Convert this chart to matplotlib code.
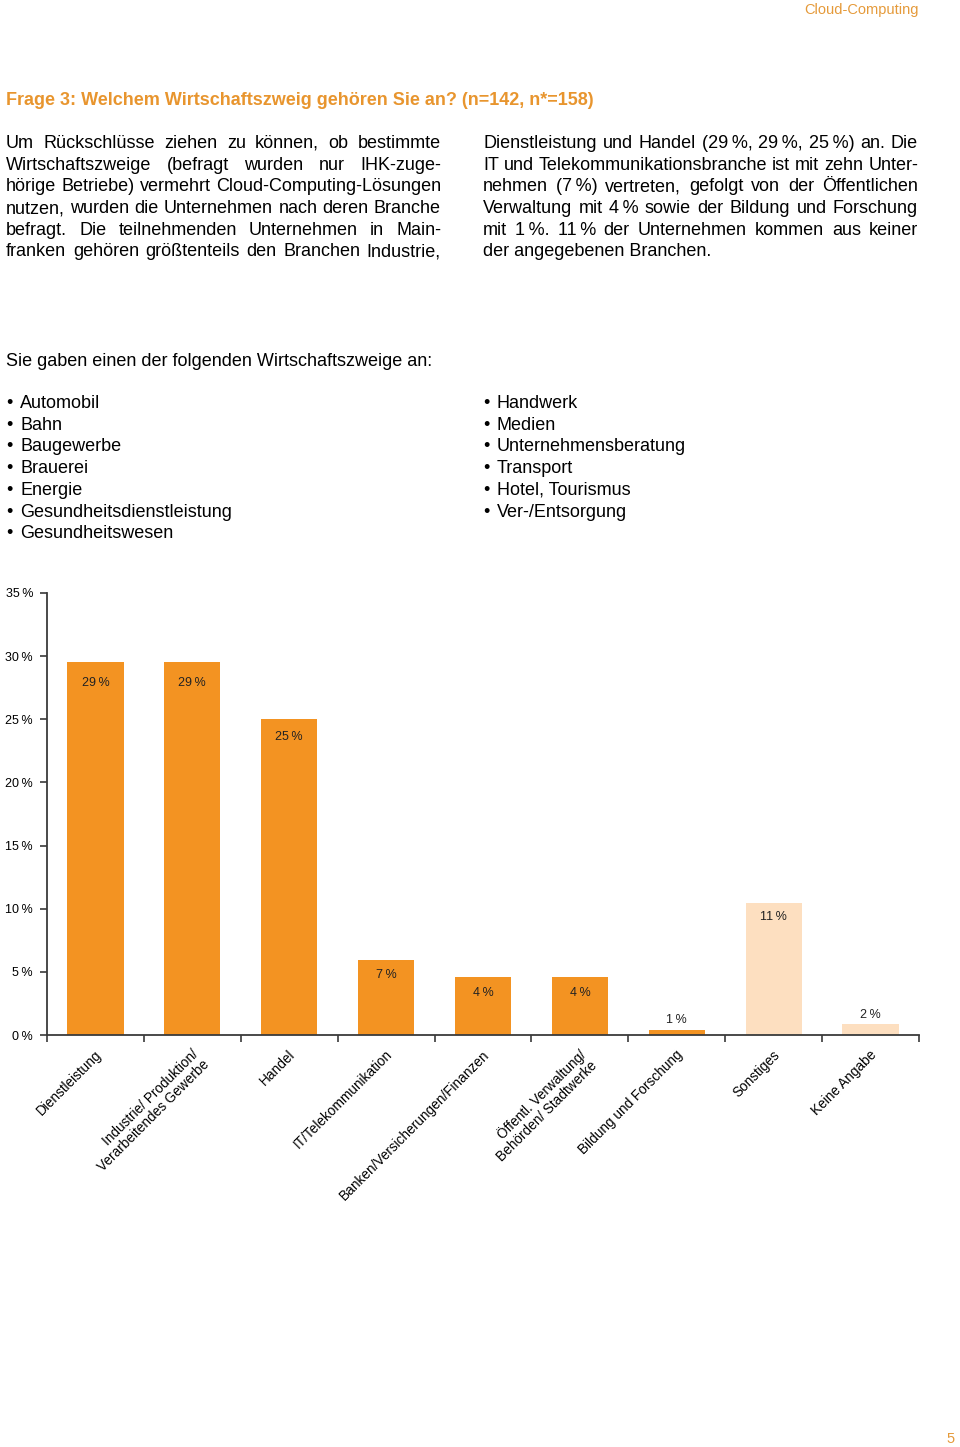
import matplotlib
matplotlib.use("Agg")
import matplotlib.pyplot as plt
from matplotlib.font_manager import FontProperties
from matplotlib.transforms import ScaledTranslation

# ---------------- data ----------------
categories = [
    "Dienstleistung",
    "Industrie/ Produktion/\nVerarbeitendes Gewerbe",
    "Handel",
    "IT/Telekommunikation",
    "Banken/Versicherungen/Finanzen",
    "Öffentl. Verwaltung/\nBehörden/ Stadtwerke",
    "Bildung und Forschung",
    "Sonstiges",
    "Keine Angabe",
]
bar_heights = [29.5, 29.5, 25.0, 5.9, 4.6, 4.6, 0.4, 10.45, 0.85]
value_labels = ["29\u2009%", "29\u2009%", "25\u2009%", "7\u2009%", "4\u2009%",
                "4\u2009%", "1\u2009%", "11\u2009%", "2\u2009%"]
is_branch = [True, True, True, True, True, True, True, False, False]
y_ticks = [0, 5, 10, 15, 20, 25, 30, 35]
y_tick_labels = ["0\u2009%", "5\u2009%", "10\u2009%", "15\u2009%", "20\u2009%",
                 "25\u2009%", "30\u2009%", "35\u2009%"]

header_text = "Cloud-Computing"
title_text = "Frage 3: Welchem Wirtschaftszweig gehören Sie an? (n=142, n*=158)"
left_lines = [
    "Um Rückschlüsse ziehen zu können, ob bestimmte",
    "Wirtschaftszweige (befragt wurden nur IHK-zuge-",
    "hörige Betriebe) vermehrt Cloud-Computing-Lösungen",
    "nutzen, wurden die Unternehmen nach deren Branche",
    "befragt. Die teilnehmenden Unternehmen in Main-",
    "franken gehören größtenteils den Branchen Industrie,",
]
right_lines = [
    "Dienstleistung und Handel (29\u2009%, 29\u2009%, 25\u2009%) an. Die",
    "IT und Telekommunikationsbranche ist mit zehn Unter-",
    "nehmen (7\u2009%) vertreten, gefolgt von der Öffentlichen",
    "Verwaltung mit 4\u2009% sowie der Bildung und Forschung",
    "mit 1\u2009%. 11\u2009% der Unternehmen kommen aus keiner",
    "der angegebenen Branchen.",
]
list_intro = "Sie gaben einen der folgenden Wirtschaftszweige an:"
bullets_left = ["Automobil", "Bahn", "Baugewerbe", "Brauerei", "Energie",
                "Gesundheitsdienstleistung", "Gesundheitswesen"]
bullets_right = ["Handwerk", "Medien", "Unternehmensberatung", "Transport",
                 "Hotel, Tourismus", "Ver-/Entsorgung"]
page_number = "5"

# ---------------- style ----------------
W, H, DPI = 960, 1447, 100
FAM = ["Liberation Sans", "DejaVu Sans"]
ORANGE = "#F39322"
PEACH = "#FDDFC0"
TITLE_COL = "#E8952E"
AXIS_COL = "#3a3a3a"
# vertical pixel offset of each value label relative to its bar top
label_offsets = [-21, -21, -18, -15, -16, -16, 10, -14, 9]

plt.rcParams["font.family"] = FAM

fig = plt.figure(figsize=(W / DPI, H / DPI), dpi=DPI)
renderer = fig.canvas.get_renderer()


def fx(x):
    return x / W


def fy(y):
    return 1 - y / H


body_fp = FontProperties(family=FAM, size=13)


def put_line(text, x0, x1, y, fp, justify=True, color="black"):
    words = text.split(" ")
    if not justify or len(words) == 1:
        fig.text(fx(x0), fy(y), text, fontproperties=fp, va="baseline",
                 ha="left", color=color)
        return
    widths = [renderer.get_text_width_height_descent(w, fp, ismath=False)[0]
              for w in words]
    gap = (x1 - x0 - sum(widths)) / (len(words) - 1)
    x = x0
    for w, wd in zip(words, widths):
        fig.text(fx(x), fy(y), w, fontproperties=fp, va="baseline",
                 ha="left", color=color)
        x += wd + gap


# header
fig.text(fx(919), fy(14), header_text, fontsize=10.5, color="#E59A3A",
         ha="right", va="baseline")
# title
fig.text(fx(6), fy(105), title_text, fontsize=13, fontweight="bold",
         color=TITLE_COL, ha="left", va="baseline")

LS = 21.7
for i, line in enumerate(left_lines):
    put_line(line, 6, 441, 148 + i * LS, body_fp, justify=True)
for i, line in enumerate(right_lines):
    put_line(line, 483, 918, 148 + i * LS, body_fp,
             justify=(i < len(right_lines) - 1))

fig.text(fx(6), fy(366), list_intro, fontproperties=body_fp, ha="left",
         va="baseline")
for i, item in enumerate(bullets_left):
    y = 408 + i * LS
    fig.text(fx(6), fy(y), "\u2022", fontproperties=body_fp, ha="left",
             va="baseline")
    fig.text(fx(20), fy(y), item, fontproperties=body_fp, ha="left",
             va="baseline")
for i, item in enumerate(bullets_right):
    y = 408 + i * LS
    fig.text(fx(483), fy(y), "\u2022", fontproperties=body_fp, ha="left",
             va="baseline")
    fig.text(fx(497), fy(y), item, fontproperties=body_fp, ha="left",
             va="baseline")

fig.text(fx(955), fy(1443), page_number, fontsize=10.5, color="#E59A3A",
         ha="right", va="baseline")

# ---------------- chart ----------------
ax_l, ax_r, ax_t, ax_b = 47, 919, 593, 1035
ax = fig.add_axes([fx(ax_l), 1 - ax_b / H, (ax_r - ax_l) / W,
                   (ax_b - ax_t) / H])
x = list(range(len(categories)))
colors = [ORANGE if b else PEACH for b in is_branch]
ax.bar(x, bar_heights, width=0.58, color=colors, zorder=2)

ax.set_xlim(-0.5, len(categories) - 0.5)
ax.set_ylim(0, 35)

for sp in ["top", "right"]:
    ax.spines[sp].set_visible(False)
for sp in ["left", "bottom"]:
    ax.spines[sp].set_color(AXIS_COL)
    ax.spines[sp].set_linewidth(1.3)
    ax.spines[sp].set_zorder(3)

ax.set_yticks(y_ticks)
ax.set_yticklabels(y_tick_labels, fontsize=9)
ax.tick_params(axis="y", direction="out", length=5, width=1.2,
               color=AXIS_COL, pad=5)

ax.set_xticks(x)
ax.set_xticklabels(categories, fontsize=9.8, rotation=45, ha="right",
                   va="top", rotation_mode="anchor", linespacing=1.05)
ax.set_xticks([i - 0.5 for i in range(len(categories) + 1)], minor=True)
ax.tick_params(axis="x", which="major", length=0, pad=9)
ax.tick_params(axis="x", which="minor", direction="out", length=5,
               width=1.2, color=AXIS_COL)
shift = ScaledTranslation(-1 / DPI, 0, fig.dpi_scale_trans)
for lab in ax.get_xticklabels():
    lab.set_transform(lab.get_transform() + shift)

for xi, h, lab, off in zip(x, bar_heights, value_labels, label_offsets):
    ax.annotate(lab, (xi, h), xytext=(0, off), textcoords="offset pixels",
                ha="center", va="center", fontsize=9, color="#222222",
                zorder=4)

fig.savefig("out.png", dpi=DPI)
